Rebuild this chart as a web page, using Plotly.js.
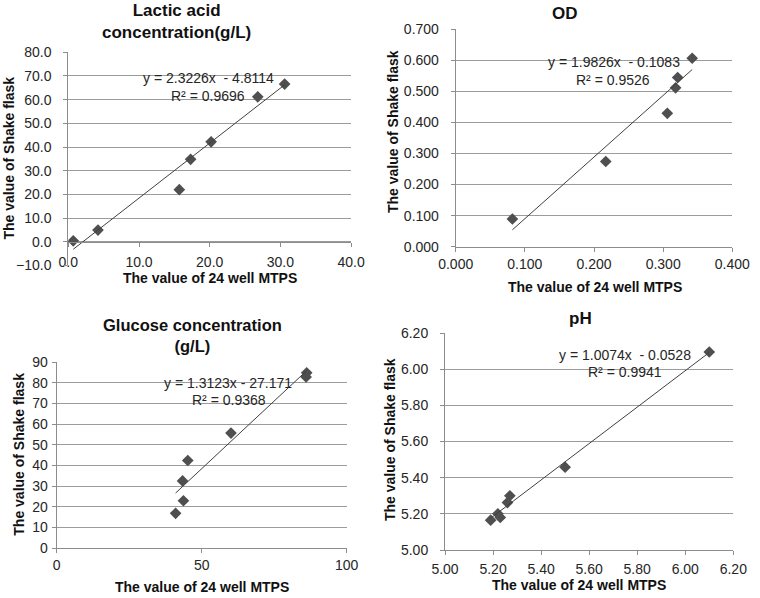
<!DOCTYPE html>
<html>
<head>
<meta charset="utf-8">
<script src="https://cdn.plot.ly/plotly-3.0.1.min.js"></script>
<style>html,body{margin:0;padding:0;background:#fff;}#chart{width:760px;height:598px;}</style>
</head>
<body>
<div id="chart"></div>
<script>
// ---- data ----
const lacticX = [0.7, 4.2, 15.7, 17.3, 20.2, 26.8, 30.6];
const lacticY = [0.4, 4.9, 22.0, 34.8, 42.2, 61.2, 66.6];
const lacticFit = [2.3226, -4.8114];
const lacticR2 = "0.9696";

const odX = [0.082, 0.217, 0.306, 0.318, 0.321, 0.342];
const odY = [0.089, 0.274, 0.429, 0.511, 0.544, 0.606];
const odFit = [1.9826, -0.1083];
const odR2 = "0.9526";

const glucoseX = [41.0, 43.7, 43.4, 45.2, 60.1, 86.0, 86.2];
const glucoseY = [16.8, 22.9, 32.5, 42.4, 55.7, 82.9, 84.9];
const glucoseFit = [1.3123, -27.171];
const glucoseR2 = "0.9368";

const phX = [5.19, 5.22, 5.23, 5.26, 5.27, 5.50, 6.10];
const phY = [5.165, 5.200, 5.180, 5.262, 5.300, 5.458, 6.095];
const phFit = [1.0074, -0.0528];
const phR2 = "0.9941";

const titles = ["Lactic acid<br>concentration(g/L)", "OD", "Glucose concentration<br>(g/L)", "pH"];
const xTitle = "The value of 24 well MTPS";
const yTitle = "The value of Shake flask";

// ---- layout helpers ----
const W = 760, H = 598;
const FONT = 'Arial, "Liberation Sans", sans-serif';
const px = v => v / W;
const py = v => 1 - v / H;
const GRID = '#9c9c9c', AXIS = '#8c8c8c', MARK = '#4f4f4f', LINE = '#404040', TXT = '#262626';

function fmtEq(fit, dblSpace) {
  const sep = dblSpace ? '\u00a0 - ' : ' - ';
  return 'y = ' + fit[0] + 'x' + sep + Math.abs(fit[1]);
}

const panels = [
  {x: lacticX, y: lacticY, fit: lacticFit, r2: lacticR2, title: titles[0], tsize: 17,
   box: [68.3, 351.1, 52.3, 265.4], xr: [0, 40], yr: [-10, 80], xd: 10, yd: 10, xf: '.1f', yf: '.1f',
   titlePos: [176, 22], eqPos: [208, 77.7], r2Pos: [208, 95.7], xtPos: [210, 277.7], ytPos: [8, 158.5],
   ystand: 9, xstand: 3, xAtZero: true},
  {x: odX, y: odY, fit: odFit, r2: odR2, title: titles[1], tsize: 17,
   box: [455.7, 732.3, 29, 246.7], xr: [0, 0.4], yr: [0, 0.7], xd: 0.1, yd: 0.1, xf: '.3f', yf: '.3f',
   titlePos: [565, 13.3], eqPos: [613.5, 61.7], r2Pos: [613, 80], xtPos: [595, 287], ytPos: [392.5, 131.5],
   ystand: 9, xstand: 0},
  {x: glucoseX, y: glucoseY, fit: glucoseFit, r2: glucoseR2, title: titles[2], tsize: 16.5,
   box: [56.7, 346.7, 362.3, 548.0], xr: [0, 100], yr: [0, 90], xd: 50, yd: 10, xf: 'd', yf: 'd',
   titlePos: [192.5, 335], eqPos: [228, 383.3], r2Pos: [229, 400], xtPos: [201.5, 586.7], ytPos: [18.7, 454],
   ystand: 1, xstand: 0, single: true},
  {x: phX, y: phY, fit: phFit, r2: phR2, title: titles[3], tsize: 17,
   box: [445, 733.3, 333, 550], xr: [5.0, 6.2], yr: [5.0, 6.2], xd: 0.2, yd: 0.2, xf: '.2f', yf: '.2f',
   titlePos: [580, 318], eqPos: [625, 355], r2Pos: [625, 371.7], xtPos: [579, 585], ytPos: [390, 440],
   ystand: 9, xstand: 2}
];

const data = [];
const layout = {
  width: W, height: H, margin: {l: 0, r: 0, t: 0, b: 0},
  paper_bgcolor: '#fff', plot_bgcolor: '#fff', showlegend: false,
  font: {family: FONT, color: TXT, size: 14},
  annotations: []
};

panels.forEach((p, i) => {
  const n = i + 1;
  const xa = 'x' + (n === 1 ? '' : n), ya = 'y' + (n === 1 ? '' : n);
  const xk = 'xaxis' + (n === 1 ? '' : n), yk = 'yaxis' + (n === 1 ? '' : n);
  data.push({type: 'scatter', mode: 'markers', x: p.x, y: p.y, xaxis: xa, yaxis: ya,
    marker: {symbol: 'diamond', size: 9, color: MARK}, hoverinfo: 'x+y'});
  const xmin = Math.min(...p.x), xmax = Math.max(...p.x);
  data.push({type: 'scatter', mode: 'lines', x: [xmin, xmax],
    y: [p.fit[0] * xmin + p.fit[1], p.fit[0] * xmax + p.fit[1]],
    xaxis: xa, yaxis: ya, line: {color: LINE, width: 1}, hoverinfo: 'skip'});

  const [l, r, t, b] = p.box;
  const xaxis = {
    domain: [px(l), px(r)], range: p.xr, dtick: p.xd, tick0: p.xr[0], tickformat: p.xf,
    showgrid: false, zeroline: false, showline: true, linecolor: AXIS, linewidth: 1,
    ticks: 'outside', ticklen: 4, tickcolor: AXIS, tickfont: {family: FONT, size: 14, color: TXT},
    anchor: ya, fixedrange: true, ticklabelstandoff: p.xstand
  };
  if (p.xAtZero) {
    // horizontal axis crosses at y = 0
    const yZeroPx = t + (p.yr[1] - 0) / (p.yr[1] - p.yr[0]) * (b - t);
    xaxis.anchor = 'free';
    xaxis.position = py(yZeroPx);
  }
  layout[xk] = xaxis;
  layout[yk] = {
    domain: [py(b), py(t)], range: p.yr, dtick: p.yd, tick0: p.yr[0], tickformat: p.yf,
    showgrid: true, gridcolor: GRID, gridwidth: 1, zeroline: false,
    showline: true, linecolor: AXIS, linewidth: 1,
    ticks: 'outside', ticklen: 4, tickcolor: AXIS, tickfont: {family: FONT, size: 14, color: TXT},
    anchor: xa, fixedrange: true, ticklabelstandoff: p.ystand
  };

  layout.annotations.push(
    {text: '<b>' + p.title + '</b>', xref: 'paper', yref: 'paper', x: px(p.titlePos[0]), y: py(p.titlePos[1]),
     xanchor: 'center', yanchor: 'middle', showarrow: false, font: {family: FONT, size: p.tsize, color: '#111'}},
    {text: fmtEq(p.fit, !p.single), xref: 'paper', yref: 'paper', x: px(p.eqPos[0]), y: py(p.eqPos[1]),
     xanchor: 'center', yanchor: 'middle', showarrow: false, font: {family: FONT, size: 14, color: TXT}},
    {text: 'R² = ' + p.r2, xref: 'paper', yref: 'paper', x: px(p.r2Pos[0]), y: py(p.r2Pos[1]),
     xanchor: 'center', yanchor: 'middle', showarrow: false, font: {family: FONT, size: 14, color: TXT}},
    {text: '<b>' + xTitle + '</b>', xref: 'paper', yref: 'paper', x: px(p.xtPos[0]), y: py(p.xtPos[1]),
     xanchor: 'center', yanchor: 'middle', showarrow: false, font: {family: FONT, size: 14, color: '#111'}},
    {text: '<b>' + yTitle + '</b>', xref: 'paper', yref: 'paper', x: px(p.ytPos[0]), y: py(p.ytPos[1]),
     xanchor: 'center', yanchor: 'middle', textangle: -90, showarrow: false, font: {family: FONT, size: 14, color: '#111'}}
  );
});

Plotly.newPlot('chart', data, layout, {staticPlot: true, displayModeBar: false});
</script>
</body>
</html>
